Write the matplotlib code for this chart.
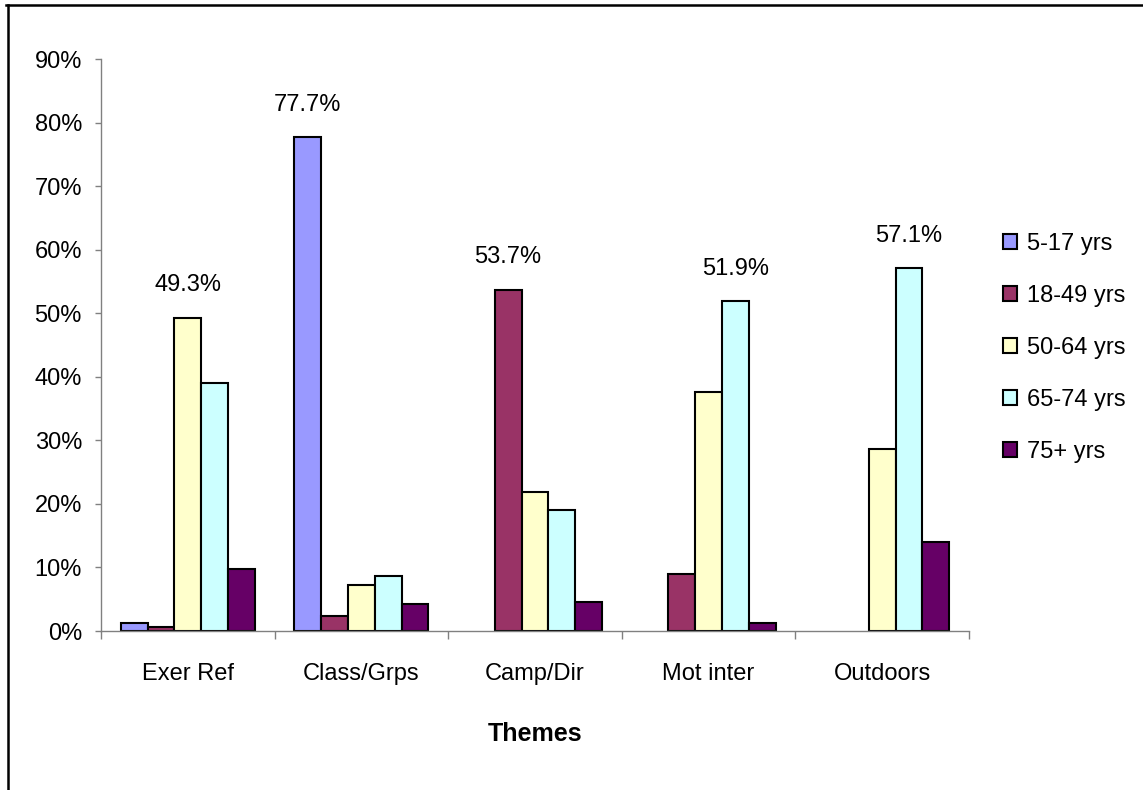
import numpy as np
import matplotlib.pyplot as plt
from matplotlib.lines import Line2D

plt.rcParams['font.family'] = ['Liberation Sans', 'DejaVu Sans']

themes = ['Exer Ref', 'Class/Grps', 'Camp/Dir', 'Mot inter', 'Outdoors']
age_groups = ['5-17 yrs', '18-49 yrs', '50-64 yrs', '65-74 yrs', '75+ yrs']

# percent of each age group per theme
age_5_17 = [1.2, 77.7, 0.0, 0.0, 0.0]
age_18_49 = [0.7, 2.3, 53.7, 8.9, 0.0]
age_50_64 = [49.3, 7.3, 21.8, 37.6, 28.6]
age_65_74 = [39.0, 8.6, 19.1, 51.9, 57.1]
age_75_plus = [9.7, 4.3, 4.5, 1.2, 14.0]

colors = ['#9999FF', '#993366', '#FFFFCC', '#CCFFFF', '#660066']

series = [age_5_17, age_18_49, age_50_64, age_65_74, age_75_plus]
vals = np.array(series)

fig = plt.figure(figsize=(11.43, 7.90), dpi=100)
ax = fig.add_axes([101 / 1143, 1 - 631 / 790, (969 - 101) / 1143, (631 - 59) / 790])

x = np.arange(len(themes))
w = 0.1546
for j, (name, s) in enumerate(zip(age_groups, series)):
    s = np.array(s)
    # empty categories get no bar (and no outline on the baseline)
    edge_w = np.where(s > 0, 1.5, 0.0)
    ax.bar(x + (j - 2) * w, s, width=w, color=colors[j], edgecolor='black',
           linewidth=edge_w, label=name)

# value label above the tallest bar in each theme
for i in range(len(themes)):
    j = int(np.argmax(vals[:, i]))
    v = vals[j, i]
    ax.annotate(f'{v:.1f}%', xy=(x[i] + (j - 2) * w, v), xytext=(0, 19),
                textcoords='offset points', ha='center', va='baseline', fontsize=17)

ax.set_xlim(-0.5, 4.5)
ax.set_ylim(0, 90)
ax.set_yticks(np.arange(0, 91, 10))
ax.set_yticklabels([f'{t}%' for t in range(0, 91, 10)], fontsize=17)
ax.set_xticks(x)
ax.set_xticklabels(themes, fontsize=17)
ax.set_xticks(np.arange(-0.5, 5, 1), minor=True)
ax.tick_params(axis='x', which='major', length=0, pad=23)
ax.tick_params(axis='x', which='minor', length=6, width=1, color='#808080')
ax.tick_params(axis='y', length=4.3, width=1, color='#808080', pad=9.4)
ax.set_xlabel('Themes', fontsize=18, fontweight='bold', labelpad=27)

for side in ['top', 'right']:
    ax.spines[side].set_visible(False)
for side in ['left', 'bottom']:
    ax.spines[side].set_color('#808080')
    ax.spines[side].set_linewidth(1)

leg = ax.legend(loc='upper left', bbox_to_anchor=(1003 / 1143, 1 - 233 / 790),
                bbox_transform=fig.transFigure, frameon=False, fontsize=17,
                borderpad=0, borderaxespad=0, handlelength=0.6, handleheight=0.6,
                handletextpad=0.4, labelspacing=1.27)
for h in leg.legend_handles:
    h.set_linewidth(1.5)

# outer chart border
fig.add_artist(Line2D([6 / 1143, 1.0], [1 - 4.5 / 790, 1 - 4.5 / 790],
                      transform=fig.transFigure, color='black', linewidth=1.8))
fig.add_artist(Line2D([7.5 / 1143, 7.5 / 1143], [0.0, 1 - 4.5 / 790],
                      transform=fig.transFigure, color='black', linewidth=1.8))

fig.savefig('out.png', dpi=100)
